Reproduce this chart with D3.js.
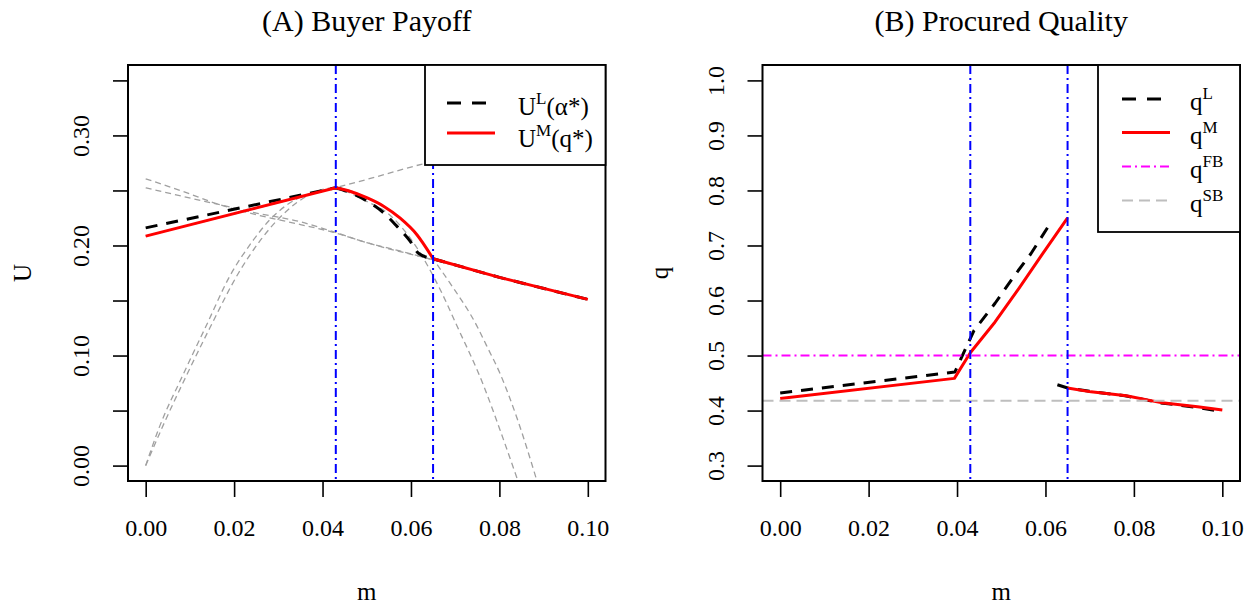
<!DOCTYPE html>
<html>
<head>
<title>Buyer payoff and procured quality</title>
<script src="https://cdn.jsdelivr.net/npm/d3@7"></script>
<style>
  body { margin: 0; background: white; }
  svg text { font-family: "Liberation Serif", "DejaVu Serif", serif; fill: black; }
</style>
</head>
<body>
<svg width="1257" height="607"></svg>
<script>
// shared x axis (m)
var mTicks = [0, 0.02, 0.04, 0.06, 0.08, 0.10];
var mTickLabels = ["0.00", "0.02", "0.04", "0.06", "0.08", "0.10"];
var cutoffs = [0.043, 0.065];

// (A) buyer payoff
var uTicks = [0, 0.05, 0.10, 0.15, 0.20, 0.25, 0.30, 0.35];
var uTickLabels = ["0.00", "", "0.10", "", "0.20", "", "0.30", ""];
var uL = [[0, 0.216], [0.043, 0.2525], [0.0463, 0.248], [0.0507, 0.2388], [0.0538, 0.2298], [0.0568, 0.2176],
          [0.0598, 0.204], [0.0617, 0.193], [0.065, 0.188], [0.08, 0.171], [0.1, 0.151]];
var uM = [[0, 0.2085], [0.043, 0.2525], [0.046, 0.2495], [0.05, 0.2434], [0.0538, 0.2357], [0.0575, 0.225],
          [0.0613, 0.21], [0.065, 0.188], [0.08, 0.171], [0.1, 0.151]];
// grey reference curves
var uAltA = [[0, 0], [0.003, 0.034], [0.0085, 0.083], [0.0138, 0.128], [0.019, 0.172], [0.024, 0.203], [0.028, 0.223],
             [0.032, 0.237], [0.037, 0.247], [0.043, 0.251], [0.05, 0.24], [0.0545, 0.23], [0.0605, 0.203],
             [0.0666, 0.16], [0.0704, 0.127], [0.0764, 0.073], [0.08, 0.034], [0.0842, -0.014]];
var uAltB = [[0, 0], [0.004, 0.037], [0.009, 0.08], [0.0145, 0.125], [0.021, 0.175], [0.026, 0.205], [0.03, 0.224],
             [0.0342, 0.239], [0.043, 0.2525], [0.05, 0.2434], [0.0575, 0.225], [0.0613, 0.21], [0.065, 0.188],
             [0.0688, 0.166], [0.0749, 0.127], [0.0771, 0.109], [0.08, 0.085], [0.084, 0.043], [0.0885, -0.014]];
var uRise = [[0, 0.2085], [0.043, 0.2525], [0.05, 0.26], [0.0636, 0.275], [0.068, 0.279]];
var uFall1 = [[0, 0.2606], [0.0085, 0.249], [0.0168, 0.237], [0.025, 0.228], [0.035, 0.219], [0.0424, 0.212],
              [0.05, 0.2026], [0.0575, 0.195], [0.065, 0.187], [0.08, 0.171], [0.1, 0.151]];
var uFall2 = [[0, 0.2524], [0.0085, 0.2445], [0.0168, 0.237], [0.025, 0.2295], [0.035, 0.2215], [0.0424, 0.2125],
              [0.05, 0.2026], [0.065, 0.187], [0.1, 0.151]];

// (B) procured quality
var qTicks = [0.3, 0.4, 0.5, 0.6, 0.7, 0.8, 0.9, 1.0];
var qTickLabels = ["0.3", "0.4", "0.5", "0.6", "0.7", "0.8", "0.9", "1.0"];
var qL1 = [[0, 0.432], [0.0395, 0.47], [0.0438, 0.545], [0.0486, 0.595], [0.0526, 0.641], [0.0567, 0.685], [0.0606, 0.734]];
var qL2 = [[0.0627, 0.447], [0.065, 0.441], [0.07, 0.435], [0.078, 0.427], [0.086, 0.414], [0.094, 0.406], [0.1, 0.398]];
var qM1 = [[0, 0.422], [0.0394, 0.4585], [0.043, 0.505], [0.0486, 0.561], [0.054, 0.622], [0.0591, 0.682], [0.065, 0.75]];
var qM2 = [[0.065, 0.441], [0.0703, 0.434], [0.0783, 0.427], [0.0864, 0.414], [0.0944, 0.407], [0.1, 0.401]];
var qFB = 0.5;
var qSB = 0.418;

var svg = d3.select("svg");
var top_ = 65, bottom = 481;

function panel(id, left, right, yDomain, yTicks, yLabels, title, yTitle, yTitleX)
{
    var xs = d3.scaleLinear().domain([-0.004, 0.104]).range([left, right]);
    var ys = d3.scaleLinear().domain(yDomain).range([bottom, top_]);

    svg.append("clipPath").attr("id", id)
      .append("rect").attr("x", left).attr("y", top_).attr("width", right - left).attr("height", bottom - top_);

    var xa = svg.append("g")
        .attr("transform", "translate(0," + bottom + ")")
        .call(d3.axisBottom(xs).tickValues(mTicks).tickSize(16).tickSizeOuter(0)
              .tickFormat(function(d, i){ return mTickLabels[i]; }));
    xa.select(".domain").remove();
    xa.attr("font-family", null).attr("font-size", null);
    xa.selectAll("line").attr("stroke-width", 1.6);
    xa.selectAll("text").attr("y", 55).attr("dy", 0).style("font-size", "24px");

    var ya = svg.append("g")
        .attr("transform", "translate(" + left + ",0)")
        .call(d3.axisLeft(ys).tickValues(yTicks).tickSize(15).tickSizeOuter(0)
              .tickFormat(function(d, i){ return yLabels[i]; }));
    ya.select(".domain").remove();
    ya.attr("font-family", null).attr("font-size", null);
    ya.selectAll("line").attr("stroke-width", 1.6);
    ya.selectAll("text")
        .attr("transform", "rotate(-90)")
        .attr("x", 0).attr("y", -39).attr("dy", 0)
        .attr("text-anchor", "middle")
        .style("font-size", "24px");

    svg.append("text")
        .attr("x", (left + right) / 2).attr("y", 31)
        .attr("text-anchor", "middle")
        .style("font-size", "30px")
        .text(title);

    svg.append("text")
        .attr("x", (left + right) / 2).attr("y", 600)
        .attr("text-anchor", "middle")
        .style("font-size", "25px")
        .text("m");

    svg.append("text")
        .attr("transform", "translate(" + yTitleX + "," + (top_ + bottom) / 2 + ") rotate(-90)")
        .attr("text-anchor", "middle")
        .style("font-size", "25px")
        .text(yTitle);

    var plot = svg.append("g").attr("clip-path", "url(#" + id + ")");
    return {xs: xs, ys: ys, plot: plot, left: left, right: right};
}

function curve(p, data, color, width, dash, smooth)
{
    var line = d3.line()
        .x(function(d){ return p.xs(d[0]); })
        .y(function(d){ return p.ys(d[1]); })
        .curve(smooth ? d3.curveMonotoneX : d3.curveLinear);
    p.plot.append("path")
        .datum(data)
        .attr("fill", "none")
        .attr("stroke", color)
        .attr("stroke-width", width)
        .attr("stroke-dasharray", dash)
        .attr("stroke-linejoin", "round")
        .attr("d", line);
}

// straight start, bent middle, straight tail
function pieced(p, data, bendFrom, bendTo, color, width, dash)
{
    curve(p, data.slice(0, bendFrom + 1), color, width, dash, false);
    curve(p, data.slice(bendFrom, bendTo + 1), color, width, dash, true);
    curve(p, data.slice(bendTo), color, width, dash, false);
}

function vlines(p)
{
    p.plot.selectAll("line.cut")
        .data(cutoffs)
        .enter()
        .append("line")
            .attr("x1", function(d){ return p.xs(d); })
            .attr("x2", function(d){ return p.xs(d); })
            .attr("y1", top_).attr("y2", bottom)
            .attr("stroke", "#0000ff")
            .attr("stroke-width", 2)
            .attr("stroke-dasharray", "9,4,2,4");
}

function legend(x, y, w, h, entries, lineX, textX, fontSize, supSize)
{
    svg.append("rect")
        .attr("x", x).attr("y", y).attr("width", w).attr("height", h)
        .attr("fill", "white").attr("stroke", "black").attr("stroke-width", 1.8);
    entries.forEach(function(e){
        svg.append("line")
            .attr("x1", lineX).attr("x2", lineX + 48)
            .attr("y1", e.y).attr("y2", e.y)
            .attr("stroke", e.color)
            .attr("stroke-width", e.width)
            .attr("stroke-dasharray", e.dash);
        var t = svg.append("text")
            .attr("x", textX).attr("y", e.y + e.shift)
            .style("font-size", fontSize + "px");
        t.append("tspan").text(e.base);
        t.append("tspan").attr("dy", -11).style("font-size", supSize + "px").text(e.sup);
        if (e.rest) t.append("tspan").attr("dy", 11).text(e.rest);
    });
}

// ---- panel A ----
var pa = panel("clipA", 128, 605.5, [-0.014, 0.364], uTicks, uTickLabels, "(A) Buyer Payoff", "U", 31);
[uAltA, uAltB].forEach(function(s){
    curve(pa, s, "#a0a0a0", 1.3, "6,4", true);
});
[uRise, uFall1, uFall2].forEach(function(s){
    curve(pa, s, "#a0a0a0", 1.3, "6,4", true);
});
pieced(pa, uL, 1, 8, "black", 3, "12,9");
pieced(pa, uM, 1, 7, "#ff0000", 3, null);
vlines(pa);
svg.append("rect").attr("x", 128).attr("y", top_).attr("width", 605.5 - 128).attr("height", bottom - top_)
    .attr("fill", "none").attr("stroke", "black").attr("stroke-width", 2);
legend(425, 65, 180.5, 100, [
    {y: 103, color: "black", width: 3, dash: "14,11", base: "U", sup: "L", rest: "(\u03b1*)", shift: 12},
    {y: 133, color: "#ff0000", width: 3, dash: null, base: "U", sup: "M", rest: "(q*)", shift: 14}
], 447, 518, 25, 17);

// ---- panel B ----
var pb = panel("clipB", 762.5, 1240, [0.272, 1.028], qTicks, qTickLabels, "(B) Procured Quality", "q", 668);
curve(pb, qL1, "black", 3, "12,9", false);
curve(pb, qL2, "black", 3, "12,9", false);
curve(pb, qM1, "#ff0000", 3, null, false);
curve(pb, qM2, "#ff0000", 3, null, false);
curve(pb, [[-0.004, qFB], [0.104, qFB]], "#ff00ff", 2, "9,4,2,4", false);
curve(pb, [[-0.004, qSB], [0.104, qSB]], "#bebebe", 2, "11,6", false);
vlines(pb);
svg.append("rect").attr("x", 762.5).attr("y", top_).attr("width", 1240 - 762.5).attr("height", bottom - top_)
    .attr("fill", "none").attr("stroke", "black").attr("stroke-width", 2);
legend(1098, 65, 142, 167, [
    {y: 99, color: "black", width: 3, dash: "14,11", base: "q", sup: "L", shift: 11},
    {y: 132.5, color: "#ff0000", width: 3, dash: null, base: "q", sup: "M", shift: 11},
    {y: 166.5, color: "#ff00ff", width: 2, dash: "9,4,2,4", base: "q", sup: "FB", shift: 11},
    {y: 200.5, color: "#bebebe", width: 2, dash: "11,6", base: "q", sup: "SB", shift: 11}
], 1122, 1190, 25, 17);
</script>
</body>
</html>
